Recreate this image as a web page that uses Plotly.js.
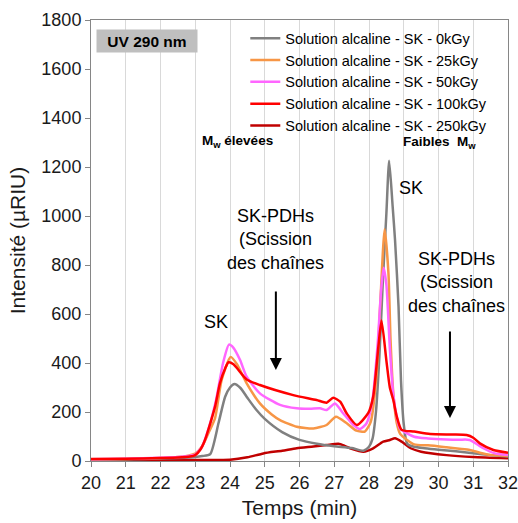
<!DOCTYPE html>
<html>
<head>
<meta charset="utf-8">
<script src="https://cdn.plot.ly/plotly-3.0.1.min.js"></script>
<style>html,body{margin:0;padding:0;background:#fff;}#chart{width:518px;height:523px;}</style>
</head>
<body>
<div id="chart"></div>
<script>
// Series names
const seriesNames = [
  "Solution alcaline - SK - 0kGy",
  "Solution alcaline - SK - 25kGy",
  "Solution alcaline - SK - 50kGy",
  "Solution alcaline - SK - 100kGy",
  "Solution alcaline - SK - 250kGy"
];
const seriesColors = ["#808080", "#f79646", "#ff66ff", "#ff0000", "#c00000"];

// 0 kGy
const t0 = [20, 21, 22, 22.5, 23.0, 23.2, 23.43, 23.67, 23.86, 24.0, 24.13, 24.3, 24.5, 24.75, 25.0, 25.5, 26.0, 26.5, 27.0, 27.5, 27.84, 28.0, 28.1, 28.2, 28.3, 28.4, 28.5, 28.58, 28.68, 28.75, 28.85, 28.92, 29.0, 29.1, 29.3, 29.6, 30.0, 30.5, 31.0, 31.5, 32];
const v0 = [5, 7, 10, 12, 16, 20, 28, 155, 262, 300, 314, 298, 258, 210, 172, 118, 86, 70, 60, 53, 42, 58, 90, 200, 430, 740, 1010, 1226, 1040, 900, 630, 330, 150, 70, 58, 52, 46, 40, 32, 24, 18];

// 25 kGy
const t25 = [20, 21, 22, 22.5, 22.8, 23.0, 23.2, 23.4, 23.57, 23.76, 24.02, 24.2, 24.48, 24.86, 25.2, 25.44, 25.92, 26.4, 26.78, 27.05, 27.36, 27.64, 27.88, 28.05, 28.22, 28.32, 28.45, 28.56, 28.62, 28.7, 28.8, 28.9, 29.3, 29.7, 30.23, 30.6, 30.9, 31.19, 31.5, 32];
const v25 = [6, 8, 12, 16, 22, 30, 60, 120, 175, 331, 425, 395, 317, 235, 190, 167, 140, 133, 147, 181, 154, 124, 120, 160, 358, 630, 946, 766, 494, 276, 154, 110, 68, 64, 56, 50, 45, 34, 25, 20];

// 50 kGy
const t50 = [20, 21, 22, 22.5, 22.8, 23.0, 23.2, 23.4, 23.6, 23.8, 23.97, 24.1, 24.29, 24.48, 24.86, 25.44, 25.92, 26.3, 26.59, 26.78, 27.02, 27.26, 27.55, 27.74, 27.93, 28.1, 28.25, 28.35, 28.42, 28.5, 28.6, 28.7, 28.8, 28.89, 29.3, 29.7, 30.23, 30.6, 30.9, 31.29, 31.6, 32];
const v50 = [7, 9, 13, 16, 20, 26, 60, 140, 250, 400, 475, 462, 412, 344, 276, 229, 215, 213, 215, 208, 235, 194, 147, 131, 154, 250, 480, 700, 789, 720, 460, 270, 180, 133, 99, 92, 88, 87, 86, 52, 32, 24];

// 100 kGy
const t100 = [20, 21, 22, 22.5, 22.85, 23.0, 23.14, 23.28, 23.57, 23.71, 23.86, 23.96, 24.1, 24.48, 24.86, 25.82, 26.49, 26.78, 26.97, 27.17, 27.36, 27.65, 27.98, 28.12, 28.27, 28.36, 28.5, 28.6, 28.7, 28.8, 28.94, 29.3, 29.76, 30.4, 30.81, 31.0, 31.19, 31.58, 32];
const v100 = [8, 9, 12, 14, 18, 24, 45, 86, 222, 317, 378, 403, 395, 333, 310, 269, 249, 238, 258, 242, 194, 147, 196, 262, 467, 573, 410, 300, 249, 181, 127, 120, 110, 108, 106, 95, 72, 45, 34];

// 250 kGy
const t250 = [20, 22, 23, 24, 24.5, 24.96, 25.5, 25.92, 26.4, 26.78, 27.12, 27.3, 27.5, 27.84, 28.12, 28.41, 28.6, 28.75, 28.94, 29.2, 29.5, 30.23, 31, 32];
const v250 = [3, 4, 4, 5, 15, 31, 42, 52, 59, 65, 70, 62, 50, 38, 52, 79, 86, 93, 79, 52, 38, 24, 16, 11];

const xs = [t0, t25, t50, t100, t250];
const ys = [v0, v25, v50, v100, v250];

// Tick values
const xTicks = [20, 21, 22, 23, 24, 25, 26, 27, 28, 29, 30, 31, 32];
const yTicks = [0, 200, 400, 600, 800, 1000, 1200, 1400, 1600, 1800];

const font = "Liberation Sans, Arial, sans-serif";

// Draw order: 250 first (bottom), then others; legend order kept
const drawOrder = [4, 0, 1, 2, 3];
const traces = drawOrder.map(i => ({
  x: xs[i], y: ys[i], type: "scatter", mode: "lines",
  name: seriesNames[i],
  line: {color: seriesColors[i], width: 2.5, shape: "spline", smoothing: 0.6},
  legendrank: i + 1
}));

const txtColor = "#000000";
const annotations = [
  {xref: "paper", yref: "paper", x: 0.134, y: 0.952, text: "<b>UV 290 nm</b>", showarrow: false,
   bgcolor: "#bfbfbf", width: 98, height: 20, font: {family: font, size: 15.5, color: "#000"}, xanchor: "center", yanchor: "middle"},
  {x: 24.23, y: 1306, text: "<b>M<sub>w</sub> élevées</b>", showarrow: false, font: {family: font, size: 13.5, color: txtColor}},
  {x: 30.04, y: 1298, text: "<b>Faibles  M<sub>w</sub></b>", showarrow: false, font: {family: font, size: 13.5, color: txtColor}},
  {x: 29.21, y: 1114, text: "SK", showarrow: false, font: {family: font, size: 18, color: txtColor}},
  {x: 23.6, y: 567, text: "SK", showarrow: false, font: {family: font, size: 18, color: txtColor}},
  {x: 25.32, y: 906, text: "SK-PDHs<br>(Scission<br>des chaînes", showarrow: false, font: {family: font, size: 18, color: txtColor}},
  {x: 30.53, y: 727, text: "SK-PDHs<br>(Scission<br>des chaînes", showarrow: false, font: {family: font, size: 18, color: txtColor}},
  {x: 25.32, y: 371, ax: 25.32, ay: 698, axref: "x", ayref: "y", text: "", showarrow: true,
   arrowhead: 2, arrowsize: 1.2, arrowwidth: 2, arrowcolor: "#000"},
  {x: 30.33, y: 176, ax: 30.33, ay: 535, axref: "x", ayref: "y", text: "", showarrow: true,
   arrowhead: 2, arrowsize: 1.2, arrowwidth: 2, arrowcolor: "#000"}
];

const layout = {
  width: 518, height: 523,
  margin: {l: 91, r: 10, t: 20, b: 62},
  paper_bgcolor: "#ffffff", plot_bgcolor: "#ffffff",
  font: {family: font, color: "#000"},
  showlegend: true,
  legend: {x: 0.37, y: 0.995, xanchor: "left", yanchor: "top", bgcolor: "rgba(0,0,0,0)",
           font: {family: font, size: 14.5, color: "#000"}, tracegroupgap: 0, itemwidth: 30},
  xaxis: {
    range: [20, 32], tickvals: xTicks, ticktext: xTicks.map(String),
    showgrid: true, gridcolor: "#d9d9d9", gridwidth: 1, zeroline: false,
    showline: true, linecolor: "#868686", linewidth: 1, mirror: true,
    ticks: "outside", ticklen: 5, tickcolor: "#868686", ticklabeloverflow: "allow",
    tickfont: {family: font, size: 18, color: "#1a1a1a"},
    title: {text: "Temps (min)", font: {family: font, size: 21, color: "#1a1a1a"}, standoff: 8}
  },
  yaxis: {
    range: [0, 1800], tickvals: yTicks, ticktext: yTicks.map(String),
    showgrid: false, zeroline: false,
    showline: true, linecolor: "#868686", linewidth: 1, mirror: true,
    ticks: "outside", ticklen: 5, tickcolor: "#868686",
    tickfont: {family: font, size: 18, color: "#1a1a1a"},
    title: {text: "Intensité (µRIU)", font: {family: font, size: 21, color: "#1a1a1a"}, standoff: 10}
  },
  annotations: annotations
};

Plotly.newPlot("chart", traces, layout, {displayModeBar: false, staticPlot: true});
</script>
</body>
</html>
